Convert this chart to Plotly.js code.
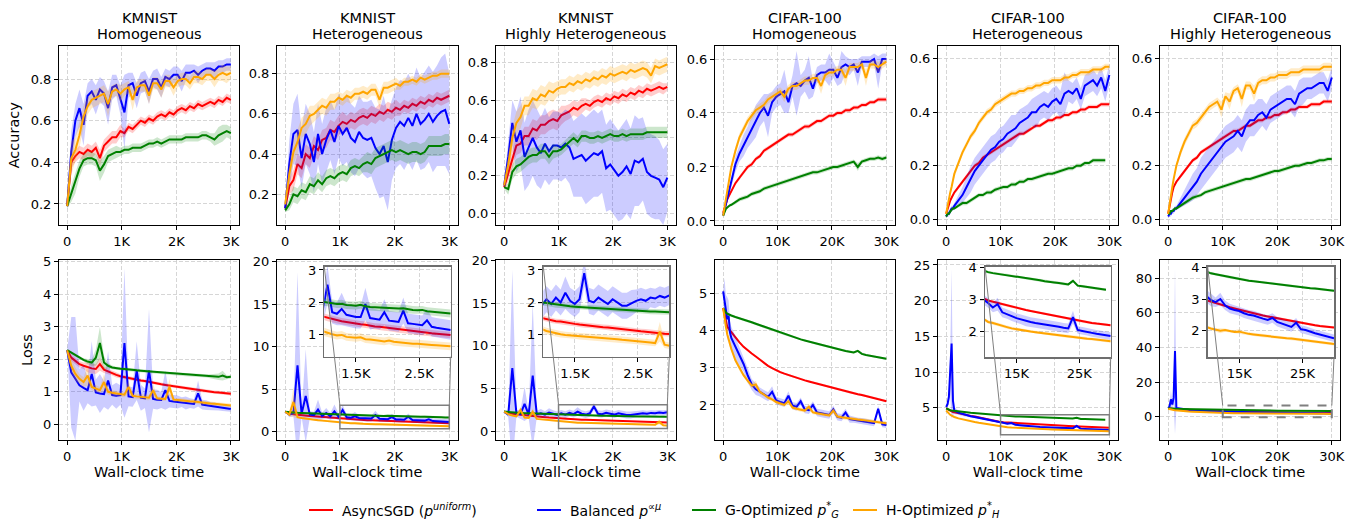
<!DOCTYPE html>
<html><head><meta charset="utf-8">
<script src="https://cdn.plot.ly/plotly-3.0.1.min.js"></script>
<style>html,body{margin:0;padding:0;background:#fff}#chart{width:1364px;height:526px}</style>
</head><body><div id="chart"></div>
<script>
const W = 1364, H = 526;

// ---------- shared x grids ----------
const xK = [0,75,150,225,300,375,450,525,600,675,750,825,900,975,1050,1125,1200,1275,1350,1425,1500,1575,1650,1725,1800,1875,1950,2025,2100,2175,2250,2325,2400,2475,2550,2625,2700,2775,2850,2925,3000];
const xC = [0,250,500,750,1000,1250,1500,2250,3000,3750,4500,5250,6000,6750,7500,8250,9000,9750,10500,11250,12000,12750,13500,14250,15000,15750,16500,17250,18000,18750,19500,20250,21000,21750,22500,23250,24000,24750,25500,26250,27000,27750,28500,29250,30000];

// ---------- text ----------
const datasetTitles = ['KMNIST','KMNIST','KMNIST','CIFAR-100','CIFAR-100','CIFAR-100'];
const settingTitles = ['Homogeneous','Heterogeneous','Highly Heterogeneous','Homogeneous','Heterogeneous','Highly Heterogeneous'];
const seriesNames = ['AsyncSGD (<i>p</i><sup><i>uniform</i></sup>)','Balanced <i>p</i><sup>∝<i>μ</i></sup>','G-Optimized <i>p</i><sup>*</sup><sub><i>G</i></sub>','H-Optimized <i>p</i><sup>*</sup><sub><i>H</i></sub>'];
const xTickValsK = [0,1000,2000,3000], xTickTextK = ['0','1K','2K','3K'];
const xTickValsC = [0,10000,20000,30000], xTickTextC = ['0','10K','20K','30K'];
const insetTickValsK = [1500,2500], insetTickTextK = ['1.5K','2.5K'];
const insetTickValsC = [15000,25000], insetTickTextC = ['15K','25K'];

// ---------- Panel 1: KMNIST Homogeneous accuracy ----------
const p1Red = [0.19,0.40,0.43,0.45,0.44,0.46,0.45,0.47,0.42,0.48, 0.50,0.52,0.52,0.55,0.54,0.57,0.56,0.58,0.60,0.59, 0.61,0.60,0.62,0.63,0.62,0.64,0.63,0.65,0.66,0.65, 0.67,0.66,0.68,0.67,0.68,0.69,0.68,0.70,0.69,0.71, 0.70];
const p1RedSd = [0.01,0.03,0.03,0.03,0.03,0.03,0.03,0.03,0.04,0.03, 0.03,0.03,0.03,0.03,0.02,0.02,0.02,0.02,0.02,0.02, 0.02,0.02,0.02,0.02,0.02,0.02,0.02,0.02,0.02,0.02, 0.02,0.02,0.02,0.02,0.02,0.02,0.02,0.02,0.02,0.02, 0.02];
const p1Blue = [0.19,0.45,0.60,0.66,0.58,0.72,0.74,0.70,0.75,0.73, 0.66,0.76,0.77,0.70,0.64,0.77,0.78,0.72,0.78,0.79, 0.74,0.80,0.80,0.76,0.81,0.80,0.82,0.82,0.79,0.83, 0.83,0.84,0.82,0.84,0.85,0.85,0.84,0.86,0.86,0.87, 0.87];
const p1BlueSd = [0.02,0.10,0.08,0.09,0.10,0.06,0.06,0.07,0.06,0.06, 0.08,0.06,0.05,0.07,0.18,0.06,0.05,0.06,0.05,0.05, 0.06,0.04,0.05,0.05,0.04,0.04,0.04,0.04,0.05,0.04, 0.04,0.03,0.04,0.03,0.03,0.03,0.04,0.03,0.03,0.03, 0.03];
const p1Green = [0.19,0.25,0.30,0.37,0.41,0.42,0.42,0.41,0.36,0.39, 0.43,0.44,0.45,0.45,0.46,0.46,0.47,0.47,0.47,0.48, 0.49,0.49,0.50,0.49,0.50,0.51,0.51,0.51,0.51,0.52, 0.52,0.52,0.52,0.53,0.53,0.52,0.51,0.53,0.54,0.55, 0.54];
const p1GreenSd = [0.01,0.04,0.05,0.04,0.03,0.03,0.03,0.03,0.05,0.04, 0.03,0.03,0.03,0.02,0.02,0.02,0.02,0.02,0.02,0.02, 0.02,0.02,0.02,0.02,0.02,0.02,0.02,0.02,0.02,0.02, 0.02,0.02,0.02,0.02,0.02,0.02,0.03,0.04,0.04,0.03, 0.03];
const p1Orange = [0.19,0.42,0.46,0.53,0.62,0.67,0.70,0.71,0.72,0.73, 0.68,0.74,0.75,0.73,0.75,0.76,0.70,0.76,0.77,0.77, 0.72,0.78,0.78,0.75,0.79,0.79,0.76,0.79,0.80,0.80, 0.78,0.81,0.81,0.80,0.82,0.82,0.80,0.82,0.83,0.82, 0.83];
const p1OrangeSd = [0.01,0.08,0.06,0.06,0.05,0.04,0.04,0.04,0.04,0.04, 0.06,0.03,0.03,0.04,0.03,0.03,0.05,0.03,0.03,0.03, 0.04,0.03,0.03,0.04,0.03,0.03,0.04,0.03,0.03,0.03, 0.03,0.03,0.03,0.03,0.03,0.03,0.04,0.03,0.04,0.04, 0.03];

// ---------- Panel 2: KMNIST Heterogeneous accuracy ----------
const p2Red = [0.13,0.24,0.27,0.35,0.33,0.40,0.38,0.44,0.42,0.47, 0.48,0.52,0.51,0.54,0.56,0.55,0.57,0.56,0.58,0.59, 0.58,0.60,0.59,0.61,0.60,0.62,0.61,0.63,0.62,0.64, 0.63,0.65,0.64,0.66,0.65,0.67,0.66,0.68,0.67,0.68, 0.69];
const p2RedSd = [0.01,0.04,0.05,0.05,0.05,0.05,0.05,0.05,0.05,0.05, 0.05,0.05,0.05,0.05,0.05,0.04,0.04,0.04,0.04,0.04, 0.04,0.04,0.04,0.04,0.04,0.04,0.04,0.04,0.03,0.03, 0.03,0.03,0.03,0.03,0.03,0.03,0.03,0.03,0.03,0.03, 0.03];
const p2Blue = [0.13,0.35,0.50,0.52,0.38,0.50,0.45,0.36,0.50,0.40, 0.47,0.52,0.46,0.54,0.50,0.53,0.48,0.46,0.51,0.48, 0.47,0.48,0.43,0.40,0.44,0.36,0.47,0.53,0.56,0.54, 0.58,0.54,0.60,0.55,0.57,0.60,0.56,0.59,0.61,0.62, 0.55];
const p2BlueSd = [0.02,0.12,0.15,0.18,0.15,0.15,0.15,0.15,0.15,0.15, 0.16,0.15,0.16,0.16,0.16,0.17,0.17,0.17,0.18,0.18, 0.19,0.19,0.20,0.22,0.25,0.24,0.20,0.20,0.21,0.22, 0.22,0.22,0.23,0.23,0.24,0.24,0.25,0.25,0.27,0.28, 0.25];
const p2Green = [0.12,0.15,0.20,0.19,0.22,0.21,0.25,0.24,0.27,0.25, 0.28,0.29,0.28,0.30,0.31,0.30,0.33,0.34,0.33,0.35, 0.36,0.35,0.38,0.39,0.40,0.41,0.42,0.41,0.42,0.41, 0.40,0.41,0.41,0.40,0.41,0.44,0.44,0.44,0.44,0.45, 0.45];
const p2GreenSd = [0.01,0.03,0.04,0.04,0.04,0.04,0.04,0.04,0.04,0.04, 0.04,0.04,0.04,0.04,0.04,0.04,0.04,0.04,0.04,0.04, 0.05,0.05,0.05,0.05,0.05,0.05,0.05,0.05,0.05,0.05, 0.05,0.05,0.05,0.05,0.05,0.05,0.05,0.05,0.05,0.05, 0.05];
const p2Orange = [0.15,0.30,0.41,0.46,0.53,0.55,0.59,0.60,0.62,0.64, 0.63,0.66,0.66,0.68,0.67,0.69,0.68,0.70,0.70,0.71, 0.70,0.72,0.72,0.67,0.73,0.73,0.74,0.75,0.74,0.76, 0.76,0.77,0.76,0.78,0.77,0.78,0.79,0.79,0.80,0.80, 0.80];
const p2OrangeSd = [0.01,0.05,0.06,0.06,0.05,0.05,0.05,0.04,0.04,0.04, 0.04,0.04,0.04,0.03,0.03,0.03,0.03,0.03,0.03,0.03, 0.03,0.03,0.03,0.04,0.03,0.03,0.03,0.03,0.02,0.02, 0.02,0.02,0.02,0.02,0.02,0.02,0.02,0.02,0.02,0.02, 0.02];

// ---------- Panel 3: KMNIST Highly Heterogeneous accuracy ----------
const p3Red = [0.14,0.21,0.29,0.36,0.37,0.41,0.41,0.45,0.44,0.47, 0.47,0.49,0.50,0.49,0.52,0.53,0.54,0.56,0.55,0.57, 0.58,0.57,0.59,0.60,0.59,0.61,0.60,0.62,0.61,0.63, 0.62,0.64,0.63,0.65,0.64,0.66,0.65,0.66,0.67,0.66, 0.67];
const p3RedSd = [0.01,0.04,0.05,0.05,0.05,0.05,0.05,0.05,0.05,0.05, 0.05,0.05,0.05,0.05,0.05,0.04,0.04,0.04,0.04,0.04, 0.03,0.03,0.03,0.03,0.03,0.03,0.03,0.03,0.03,0.03, 0.03,0.03,0.03,0.03,0.03,0.03,0.03,0.03,0.03,0.03, 0.02];
const p3Blue = [0.15,0.30,0.48,0.38,0.44,0.30,0.35,0.40,0.35,0.32, 0.37,0.33,0.36,0.36,0.35,0.37,0.35,0.29,0.30,0.31, 0.28,0.30,0.32,0.31,0.33,0.24,0.26,0.23,0.20,0.22, 0.25,0.21,0.28,0.27,0.29,0.22,0.20,0.19,0.18,0.14, 0.19];
const p3BlueSd = [0.02,0.10,0.12,0.16,0.18,0.18,0.20,0.20,0.20,0.19, 0.19,0.18,0.18,0.18,0.18,0.18,0.19,0.20,0.21,0.22, 0.23,0.23,0.23,0.22,0.22,0.23,0.24,0.24,0.24,0.25, 0.25,0.24,0.24,0.23,0.22,0.22,0.22,0.22,0.21,0.20, 0.18];
const p3Green = [0.14,0.13,0.22,0.25,0.26,0.28,0.30,0.31,0.31,0.33, 0.33,0.30,0.33,0.33,0.34,0.36,0.38,0.40,0.38,0.41, 0.41,0.40,0.40,0.41,0.40,0.41,0.42,0.41,0.41,0.42, 0.41,0.42,0.42,0.42,0.42,0.43,0.43,0.43,0.43,0.43, 0.43];
const p3GreenSd = [0.01,0.03,0.04,0.04,0.04,0.04,0.04,0.04,0.04,0.04, 0.04,0.04,0.04,0.03,0.03,0.03,0.03,0.03,0.03,0.03, 0.03,0.03,0.03,0.03,0.03,0.03,0.03,0.03,0.03,0.03, 0.03,0.03,0.03,0.03,0.03,0.03,0.03,0.03,0.03,0.03, 0.03];
const p3Orange = [0.15,0.26,0.40,0.48,0.51,0.57,0.57,0.61,0.60,0.63, 0.62,0.65,0.64,0.66,0.67,0.67,0.69,0.68,0.70,0.69, 0.71,0.70,0.72,0.71,0.73,0.72,0.74,0.73,0.74,0.75, 0.74,0.76,0.75,0.76,0.77,0.76,0.73,0.78,0.77,0.78, 0.79];
const p3OrangeSd = [0.01,0.05,0.06,0.06,0.06,0.05,0.05,0.05,0.05,0.05, 0.05,0.05,0.05,0.04,0.04,0.04,0.04,0.04,0.04,0.04, 0.04,0.04,0.04,0.04,0.04,0.04,0.04,0.04,0.04,0.04, 0.04,0.04,0.04,0.04,0.04,0.04,0.04,0.04,0.04,0.04, 0.04];

// ---------- Panel 4: CIFAR-100 Homogeneous accuracy ----------
const p4Red = [0.03,0.05,0.065,0.08,0.09,0.10,0.11, 0.14,0.16,0.18,0.20,0.21,0.23,0.24,0.26,0.27,0.28, 0.29,0.30,0.31,0.32,0.32,0.33,0.34,0.35,0.35,0.36, 0.37,0.37,0.38,0.39,0.39,0.40,0.40,0.41,0.41,0.42, 0.42,0.43,0.43,0.44,0.44,0.45,0.45,0.45];
const p4RedSd = [0.005,0.005,0.005,0.005,0.005,0.005,0.005, 0.008,0.008,0.008,0.008,0.008,0.008,0.008,0.008,0.008,0.008, 0.008,0.008,0.008,0.008,0.008,0.008,0.008,0.008,0.008,0.008, 0.008,0.008,0.008,0.008,0.008,0.008,0.008,0.008,0.008,0.008, 0.008,0.008,0.008,0.008,0.008,0.008,0.008,0.008];
const p4Blue = [0.02,0.04,0.06,0.08,0.10,0.12,0.14, 0.21,0.25,0.28,0.31,0.34,0.37,0.40,0.42,0.39,0.44, 0.46,0.47,0.48,0.44,0.50,0.51,0.50,0.52,0.53,0.49, 0.54,0.55,0.55,0.56,0.56,0.53,0.57,0.58,0.57,0.58, 0.55,0.59,0.59,0.59,0.60,0.55,0.60,0.60];
const p4BlueSd = [0.005,0.01,0.01,0.01,0.015,0.015,0.02, 0.03,0.03,0.04,0.04,0.05,0.06,0.05,0.05,0.08,0.04, 0.04,0.04,0.08,0.04,0.04,0.12,0.04,0.04,0.08,0.03, 0.03,0.03,0.03,0.06,0.03,0.03,0.06,0.03,0.03,0.02, 0.05,0.02,0.02,0.02,0.02,0.06,0.02,0.02];
const p4Green = [0.02,0.035,0.045,0.05,0.055,0.058,0.06, 0.07,0.08,0.085,0.09,0.10,0.105,0.11,0.12,0.125,0.13, 0.135,0.14,0.145,0.15,0.155,0.16,0.165,0.17,0.175,0.18, 0.18,0.185,0.19,0.195,0.20,0.20,0.205,0.21,0.215,0.22, 0.20,0.22,0.225,0.23,0.23,0.235,0.23,0.235];
const p4GreenSd = [0.005,0.005,0.005,0.005,0.005,0.005,0.005, 0.008,0.008,0.008,0.008,0.008,0.008,0.008,0.008,0.008,0.008, 0.008,0.008,0.008,0.008,0.008,0.008,0.008,0.008,0.008,0.008, 0.008,0.008,0.008,0.008,0.008,0.008,0.008,0.008,0.008,0.008, 0.015,0.008,0.008,0.008,0.008,0.008,0.008,0.008];
const p4Orange = [0.02,0.05,0.08,0.11,0.14,0.17,0.20, 0.26,0.31,0.34,0.37,0.39,0.41,0.42,0.43,0.45,0.46, 0.47,0.48,0.46,0.49,0.50,0.50,0.51,0.52,0.52,0.53, 0.53,0.50,0.54,0.55,0.55,0.56,0.56,0.53,0.57,0.57, 0.57,0.58,0.53,0.58,0.58,0.57,0.58,0.59];
const p4OrangeSd = [0.005,0.01,0.01,0.01,0.01,0.01,0.01, 0.015,0.015,0.015,0.015,0.015,0.015,0.015,0.015,0.015,0.015, 0.015,0.015,0.02,0.015,0.015,0.015,0.015,0.015,0.015,0.015, 0.015,0.03,0.015,0.015,0.015,0.015,0.015,0.03,0.015,0.015, 0.015,0.015,0.03,0.015,0.015,0.02,0.015,0.015];

// ---------- Panel 5: CIFAR-100 Heterogeneous accuracy ----------
const p5Red = [0.02,0.04,0.05,0.07,0.08,0.09,0.10, 0.12,0.14,0.16,0.18,0.20,0.21,0.23,0.24,0.25,0.26, 0.27,0.28,0.29,0.30,0.31,0.32,0.32,0.33,0.34,0.35, 0.35,0.36,0.37,0.37,0.38,0.38,0.39,0.39,0.40,0.40, 0.41,0.41,0.42,0.42,0.42,0.43,0.43,0.43];
const p5RedSd = [0.005,0.005,0.005,0.005,0.005,0.005,0.005, 0.008,0.008,0.008,0.008,0.008,0.008,0.008,0.008,0.008,0.008, 0.008,0.008,0.008,0.008,0.008,0.008,0.008,0.008,0.008,0.008, 0.008,0.008,0.008,0.008,0.008,0.008,0.008,0.008,0.008,0.008, 0.008,0.008,0.008,0.008,0.008,0.008,0.008,0.008];
const p5Blue = [0.01,0.02,0.02,0.03,0.04,0.04,0.05, 0.07,0.09,0.12,0.15,0.18,0.20,0.22,0.24,0.26,0.27, 0.29,0.30,0.32,0.33,0.34,0.36,0.37,0.38,0.40,0.40, 0.42,0.43,0.42,0.44,0.45,0.43,0.47,0.48,0.47,0.49, 0.45,0.50,0.51,0.52,0.50,0.53,0.48,0.54];
const p5BlueSd = [0.005,0.01,0.01,0.01,0.01,0.01,0.01, 0.02,0.03,0.04,0.05,0.05,0.05,0.05,0.05,0.05,0.05, 0.05,0.05,0.05,0.06,0.05,0.05,0.05,0.05,0.05,0.06, 0.05,0.05,0.05,0.05,0.05,0.05,0.08,0.04,0.04,0.04, 0.04,0.04,0.04,0.04,0.04,0.04,0.04,0.04];
const p5Green = [0.01,0.02,0.02,0.03,0.035,0.04,0.04, 0.05,0.06,0.06,0.07,0.08,0.09,0.09,0.10,0.10,0.11, 0.115,0.12,0.12,0.13,0.13,0.14,0.14,0.15,0.15,0.155, 0.16,0.165,0.17,0.17,0.175,0.18,0.185,0.19,0.19,0.20, 0.20,0.21,0.21,0.22,0.22,0.22,0.22,null];
const p5GreenSd = [0.005,0.005,0.005,0.005,0.005,0.005,0.005, 0.008,0.008,0.008,0.008,0.008,0.008,0.008,0.008,0.008,0.008, 0.008,0.008,0.008,0.008,0.008,0.008,0.008,0.008,0.008,0.008, 0.008,0.008,0.008,0.008,0.008,0.008,0.008,0.008,0.008,0.008, 0.008,0.008,0.008,0.008,0.008,0.008,0.008,0.008];
const p5Orange = [0.02,0.05,0.07,0.10,0.12,0.15,0.17, 0.21,0.25,0.28,0.31,0.33,0.36,0.38,0.40,0.41,0.43, 0.44,0.45,0.46,0.47,0.47,0.48,0.48,0.49,0.49,0.50, 0.50,0.51,0.51,0.52,0.52,0.52,0.53,0.53,0.54,0.54, 0.55,0.55,0.55,0.56,0.56,0.56,0.57,0.57];
const p5OrangeSd = [0.005,0.01,0.01,0.01,0.01,0.01,0.01, 0.012,0.012,0.012,0.012,0.012,0.012,0.012,0.012,0.012,0.012, 0.012,0.012,0.012,0.012,0.012,0.012,0.012,0.012,0.012,0.012, 0.012,0.012,0.012,0.012,0.012,0.012,0.012,0.012,0.012,0.012, 0.012,0.012,0.012,0.012,0.012,0.012,0.012,0.012];

// ---------- Panel 6: CIFAR-100 Highly Heterogeneous accuracy ----------
const p6Red = [0.02,0.05,0.08,0.10,0.12,0.13,0.14, 0.16,0.18,0.20,0.22,0.23,0.25,0.26,0.27,0.28,0.29, 0.30,0.31,0.32,0.33,0.33,0.34,0.35,0.35,0.36,0.37, 0.37,0.38,0.38,0.39,0.39,0.40,0.40,0.41,0.41,0.42, 0.42,0.42,0.43,0.43,0.43,0.44,0.44,0.44];
const p6RedSd = [0.005,0.005,0.005,0.005,0.005,0.005,0.005, 0.008,0.008,0.008,0.008,0.008,0.008,0.008,0.008,0.008,0.008, 0.008,0.008,0.008,0.008,0.008,0.008,0.008,0.008,0.008,0.008, 0.008,0.008,0.008,0.008,0.008,0.008,0.008,0.008,0.008,0.008, 0.008,0.008,0.008,0.008,0.008,0.008,0.008,0.008];
const p6Blue = [0.01,0.02,0.02,0.03,0.03,0.04,0.04, 0.06,0.08,0.10,0.12,0.14,0.17,0.19,0.21,0.23,0.25, 0.27,0.29,0.30,0.31,0.33,0.31,0.35,0.37,0.37,0.39, 0.40,0.38,0.41,0.42,0.43,0.44,0.45,0.45,0.43,0.47, 0.48,0.49,0.49,0.50,0.51,0.51,0.48,0.53];
const p6BlueSd = [0.005,0.01,0.01,0.01,0.01,0.01,0.01, 0.02,0.03,0.04,0.05,0.05,0.06,0.06,0.06,0.06,0.06, 0.06,0.06,0.06,0.06,0.06,0.06,0.06,0.06,0.06,0.06, 0.05,0.05,0.05,0.05,0.05,0.05,0.05,0.05,0.05,0.05, 0.05,0.04,0.04,0.04,0.04,0.04,0.04,0.04];
const p6Green = [0.02,0.02,0.03,0.03,0.035,0.04,0.04, 0.05,0.06,0.07,0.08,0.085,0.09,0.10,0.105,0.11,0.115, 0.12,0.125,0.13,0.135,0.14,0.145,0.15,0.15,0.155,0.16, 0.165,0.17,0.175,0.18,0.18,0.185,0.19,0.195,0.20,0.20, 0.205,0.21,0.21,0.215,0.22,0.22,0.225,0.225];
const p6GreenSd = [0.005,0.005,0.005,0.005,0.005,0.005,0.005, 0.008,0.008,0.008,0.008,0.008,0.008,0.008,0.008,0.008,0.008, 0.008,0.008,0.008,0.008,0.008,0.008,0.008,0.008,0.008,0.008, 0.008,0.008,0.008,0.008,0.008,0.008,0.008,0.008,0.008,0.008, 0.008,0.008,0.008,0.008,0.008,0.008,0.008,0.008];
const p6Orange = [0.02,0.06,0.09,0.12,0.15,0.18,0.20, 0.25,0.29,0.32,0.35,0.36,0.38,0.40,0.42,0.43,0.44, 0.41,0.46,0.44,0.48,0.49,0.45,0.50,0.50,0.47,0.51, 0.52,0.52,0.53,0.53,0.54,0.54,0.54,0.55,0.55,0.55, 0.56,0.56,0.56,0.56,0.56,0.57,0.57,0.57];
const p6OrangeSd = [0.005,0.01,0.01,0.01,0.01,0.01,0.01, 0.015,0.015,0.015,0.015,0.015,0.015,0.015,0.015,0.015,0.015, 0.03,0.015,0.03,0.015,0.015,0.03,0.015,0.015,0.03,0.015, 0.015,0.015,0.015,0.015,0.015,0.015,0.015,0.015,0.015,0.015, 0.015,0.015,0.015,0.015,0.015,0.015,0.015,0.015];

// ---------- Panel 7: KMNIST Homogeneous loss ----------
const p7Red = [2.28,2.05,1.95,1.85,1.80,1.75,1.72,1.70,1.85,1.68, 1.62,1.58,1.52,1.48,1.45,1.42,1.40,1.38,1.35,1.33, 1.30,1.28,1.25,1.23,1.21,1.19,1.17,1.15,1.13,1.11, 1.09,1.07,1.05,1.04,1.02,1.01,0.99,0.98,0.96,0.95, 0.94];
const p7RedSd = [0.02,0.10,0.10,0.10,0.10,0.15,0.15,0.15,0.20,0.10, 0.08,0.08,0.08,0.06,0.06,0.06,0.06,0.06,0.05,0.05, 0.05,0.05,0.05,0.05,0.05,0.05,0.05,0.05,0.05,0.05, 0.05,0.05,0.05,0.05,0.05,0.05,0.05,0.05,0.05,0.05, 0.05];
const p7Blue = [2.28,1.60,1.40,1.20,1.12,1.05,1.55,0.98,0.95,0.93, 1.35,0.90,0.88,0.90,2.50,0.86,0.84,1.65,0.82,0.80, 1.65,0.78,0.76,0.75,1.05,0.72,0.70,0.69,0.68,0.66, 0.65,0.63,0.95,0.61,0.59,0.57,0.55,0.53,0.51,0.49, 0.47];
const p7BlueSd = [0.02,1.70,1.90,0.50,0.70,0.40,1.00,0.40,0.60,0.40, 0.90,0.30,0.40,0.30,2.30,0.30,0.30,0.90,0.40,0.30, 1.90,0.30,0.30,0.25,0.60,0.20,0.20,0.20,0.15,0.20, 0.15,0.15,0.40,0.15,0.15,0.12,0.12,0.10,0.10,0.10, 0.08];
const p7Green = [2.28,2.20,2.12,2.05,1.98,1.93,1.90,2.05,2.50,1.90, 1.80,1.75,1.72,1.71,1.70,1.68,1.67,1.66,1.65,1.64, 1.62,1.60,1.60,1.58,1.57,1.56,1.55,1.54,1.54,1.53, 1.52,1.51,1.50,1.50,1.49,1.48,1.47,1.46,1.50,1.45, 1.46];
const p7GreenSd = [0.02,0.05,0.05,0.05,0.05,0.08,0.10,0.25,0.50,0.20, 0.08,0.06,0.05,0.05,0.05,0.05,0.05,0.05,0.05,0.05, 0.05,0.05,0.05,0.05,0.05,0.05,0.05,0.05,0.05,0.05, 0.05,0.05,0.05,0.05,0.05,0.06,0.08,0.10,0.15,0.06, 0.05];
const p7Orange = [2.28,1.80,1.55,1.40,1.30,1.50,1.15,1.10,1.05,1.30, 1.00,0.97,0.95,0.93,0.91,1.15,0.88,0.86,0.85,0.83, 0.82,1.05,0.80,0.79,0.78,1.15,0.76,0.75,0.73,0.72, 0.71,0.70,0.68,0.67,0.66,0.64,0.63,0.62,0.60,0.59, 0.58];
const p7OrangeSd = [0.02,0.20,0.20,0.15,0.15,0.30,0.10,0.10,0.10,0.25, 0.10,0.08,0.08,0.08,0.08,0.20,0.08,0.08,0.08,0.08, 0.08,0.20,0.06,0.06,0.06,0.25,0.06,0.06,0.06,0.06, 0.06,0.06,0.06,0.06,0.06,0.06,0.06,0.06,0.06,0.06, 0.06];

// ---------- Panel 8: KMNIST Heterogeneous loss ----------
const p8Red = [2.35,2.15,2.05,1.98,1.92,1.88,1.84,1.80,1.76,1.72, 1.68,1.64,1.60,1.57,1.52,1.48,1.45,1.42,1.40,1.37, 1.35,1.33,1.31,1.28,1.26,1.25,1.23,1.21,1.20,1.17, 1.15,1.13,1.11,1.10,1.08,1.06,1.05,1.04,1.02,1.01, 1.00];
const p8RedSd = [0.02,0.10,0.10,0.10,0.10,0.10,0.10,0.10,0.10,0.10, 0.10,0.10,0.10,0.10,0.10,0.10,0.10,0.10,0.10,0.10, 0.10,0.10,0.10,0.10,0.10,0.10,0.10,0.10,0.10,0.10, 0.10,0.10,0.10,0.10,0.10,0.10,0.10,0.10,0.10,0.10, 0.10];
const p8Blue = [2.35,2.00,2.20,7.80,2.10,4.20,2.00,1.95,2.60,1.85, 2.20,1.80,2.40,1.75,2.55,1.70,1.65,1.80,1.62,1.58, 1.55,1.55,1.95,1.52,1.50,1.47,1.70,1.44,1.42,1.40, 1.75,1.36,1.34,1.32,1.30,1.45,1.25,1.22,1.20,1.17, 1.15];
const p8BlueSd = [0.02,0.30,0.40,11.0,0.40,5.50,0.40,0.40,1.20,0.40, 0.60,0.40,0.80,0.40,0.60,0.35,0.35,0.50,0.35,0.35, 0.35,0.35,0.50,0.35,0.30,0.30,0.40,0.30,0.30,0.30, 0.40,0.30,0.30,0.30,0.30,0.35,0.30,0.30,0.30,0.30, 0.30];
const p8Green = [2.35,2.28,2.25,2.22,2.20,2.18,2.16,2.14,2.12,2.10, 2.08,2.06,2.08,2.02,2.00,1.98,1.95,1.96,1.92,1.91, 1.90,1.93,1.88,1.86,1.85,1.86,1.84,1.83,1.82,1.81, 1.82,1.79,1.77,1.76,1.77,1.73,1.72,1.70,1.69,1.67, 1.66];
const p8GreenSd = [0.02,0.12,0.12,0.12,0.12,0.12,0.12,0.12,0.12,0.12, 0.12,0.12,0.12,0.12,0.12,0.12,0.12,0.12,0.12,0.12, 0.12,0.12,0.12,0.12,0.12,0.12,0.12,0.12,0.12,0.12, 0.12,0.12,0.12,0.12,0.12,0.12,0.12,0.12,0.12,0.12, 0.12];
const p8Orange = [2.35,2.00,3.50,1.70,1.60,1.52,1.45,1.40,1.35,1.30, 1.25,1.20,1.16,1.10,1.05,1.02,0.98,1.00,0.94,0.92, 0.91,0.93,0.87,0.86,0.85,0.82,0.80,0.83,0.79,0.77, 0.76,0.75,0.73,0.73,0.71,0.70,0.69,0.68,0.67,0.66, 0.65];
const p8OrangeSd = [0.02,0.15,1.80,0.15,0.12,0.12,0.12,0.12,0.12,0.12, 0.12,0.12,0.12,0.12,0.12,0.12,0.12,0.12,0.12,0.12, 0.12,0.12,0.12,0.12,0.12,0.12,0.12,0.12,0.12,0.12, 0.12,0.12,0.12,0.12,0.12,0.12,0.12,0.12,0.12,0.12, 0.12];

// ---------- Panel 9: KMNIST Highly Heterogeneous loss ----------
const p9Red = [2.30,2.15,2.05,1.98,1.92,1.87,1.82,1.77,1.72,1.68, 1.64,1.60,1.56,1.52,1.49,1.45,1.42,1.41,1.38,1.36, 1.34,1.32,1.30,1.29,1.27,1.26,1.24,1.23,1.21,1.19, 1.17,1.16,1.14,1.13,1.11,1.10,1.08,1.06,1.05,1.04, 1.03];
const p9RedSd = [0.02,0.08,0.08,0.08,0.08,0.08,0.08,0.08,0.08,0.08, 0.08,0.08,0.08,0.08,0.08,0.08,0.08,0.08,0.08,0.08, 0.08,0.08,0.08,0.08,0.08,0.08,0.08,0.08,0.08,0.08, 0.08,0.08,0.08,0.08,0.08,0.08,0.08,0.08,0.08,0.08, 0.08];
const p9Blue = [2.30,1.95,7.40,2.10,2.00,3.20,1.95,6.50,2.00,2.10, 1.95,2.20,2.05,1.90,2.10,1.95,2.15,2.00,2.30,2.05, 1.95,2.10,2.90,2.05,2.00,2.15,2.05,1.95,2.10,2.00, 1.90,1.90,1.98,2.05,2.10,2.05,2.15,2.12,2.20,2.15, 2.22];
const p9BlueSd = [0.02,0.30,11.5,0.40,0.50,2.00,0.40,8.50,0.40,0.50, 0.40,0.50,0.40,0.40,0.40,0.40,0.40,0.40,0.50,0.40, 0.40,0.40,0.40,0.40,0.40,0.40,0.40,0.40,0.40,0.40, 0.40,0.40,0.40,0.35,0.35,0.35,0.30,0.30,0.30,0.30, 0.30];
const p9Green = [2.30,2.25,2.20,2.18,2.15,2.12,2.10,2.08,2.07,2.05, 2.04,2.03,2.02,2.00,1.98,1.95,1.92,1.90,1.89,1.88, 1.87,1.86,1.85,1.84,1.83,1.82,1.80,1.79,1.79,1.78, 1.77,1.76,1.75,1.74,1.74,1.73,1.72,1.72,1.71,1.70, 1.70];
const p9GreenSd = [0.02,0.08,0.08,0.08,0.08,0.08,0.08,0.08,0.08,0.08, 0.08,0.08,0.08,0.08,0.08,0.08,0.08,0.08,0.08,0.08, 0.08,0.08,0.08,0.08,0.08,0.08,0.08,0.08,0.08,0.08, 0.08,0.08,0.08,0.08,0.08,0.08,0.08,0.08,0.08,0.08, 0.08];
const p9Orange = [2.30,2.00,1.85,1.75,2.50,1.60,1.55,2.30,1.45,1.40, 1.35,1.30,1.25,1.18,1.12,1.08,1.05,1.02,1.00,0.99, 0.98,0.96,0.95,0.94,0.92,0.91,0.90,0.89,0.88,0.87, 0.85,0.84,0.83,0.82,0.80,0.79,0.77,0.75,1.10,0.70, 0.67];
const p9OrangeSd = [0.02,0.10,0.10,0.10,0.40,0.10,0.10,0.40,0.10,0.10, 0.10,0.10,0.10,0.10,0.10,0.10,0.10,0.10,0.10,0.10, 0.10,0.10,0.10,0.10,0.10,0.10,0.10,0.10,0.10,0.10, 0.10,0.10,0.10,0.10,0.10,0.10,0.10,0.10,0.30,0.10, 0.10];

// ---------- Panel 10: CIFAR-100 Homogeneous loss ----------
const p10Red = [4.60,4.40,4.25,4.10,4.05,4.00,3.95, 3.80,3.68,3.56,3.46,3.38,3.30,3.22,3.12,3.05,2.99, 2.93,2.88,2.84,2.80,2.76,2.72,2.69,2.66,2.63,2.60, 2.57,2.54,2.51,2.48,2.45,2.42,2.40,2.37,2.34,2.32, 2.29,2.27,2.24,2.22,2.19,2.17,2.14,2.10];
const p10RedSd = [0.02,0.03,0.03,0.03,0.03,0.03,0.03, 0.03,0.03,0.03,0.03,0.03,0.03,0.03,0.03,0.03,0.03, 0.03,0.03,0.03,0.03,0.03,0.03,0.03,0.03,0.03,0.03, 0.03,0.03,0.03,0.03,0.03,0.03,0.03,0.03,0.03,0.03, 0.03,0.03,0.03,0.03,0.03,0.03,0.03,0.03];
const p10Blue = [5.05,4.80,4.55,4.30,4.40,3.95,3.80, 3.55,3.30,3.10,2.80,2.55,2.42,2.35,2.28,2.22,2.35, 2.12,2.08,2.05,2.25,1.98,1.95,2.10,1.88,1.86,2.00, 1.80,1.78,1.75,1.73,1.88,1.68,1.66,1.80,1.62,1.60, 1.58,1.57,1.55,1.53,1.51,1.90,1.48,1.46];
const p10BlueSd = [0.02,0.60,0.40,0.60,0.40,0.30,0.30, 0.30,0.25,0.20,0.20,0.15,0.15,0.12,0.12,0.12,0.15, 0.10,0.10,0.10,0.12,0.10,0.10,0.10,0.10,0.10,0.10, 0.10,0.10,0.10,0.10,0.10,0.10,0.10,0.10,0.10,0.08, 0.08,0.08,0.08,0.08,0.08,0.08,0.08,0.08];
const p10Green = [4.60,4.52,4.48,4.45,4.43,4.41,4.40, 4.36,4.33,4.29,4.26,4.22,4.18,4.14,4.10,4.06,4.02, 3.98,3.94,3.90,3.86,3.83,3.80,3.76,3.73,3.70,3.67, 3.64,3.61,3.58,3.56,3.53,3.50,3.48,3.45,3.43,3.41, 3.45,3.37,3.34,3.32,3.30,3.28,3.26,3.24];
const p10GreenSd = [0.02,0.03,0.03,0.03,0.03,0.03,0.03, 0.03,0.03,0.03,0.03,0.03,0.03,0.03,0.03,0.03,0.03, 0.03,0.03,0.03,0.03,0.03,0.03,0.03,0.03,0.03,0.03, 0.03,0.03,0.03,0.03,0.03,0.03,0.03,0.03,0.03,0.03, 0.03,0.03,0.03,0.03,0.03,0.03,0.03,0.03];
const p10Orange = [4.60,4.30,4.10,3.90,3.75,3.62,3.50, 3.20,2.98,2.80,2.65,2.52,2.55,2.35,2.28,2.20,2.15, 2.08,2.04,2.00,2.10,1.93,1.90,1.87,1.85,1.95,1.80, 1.78,1.76,1.74,1.72,1.85,1.69,1.67,1.65,1.64,1.62, 1.61,1.60,1.58,1.57,1.55,1.54,1.52,1.51];
const p10OrangeSd = [0.02,0.08,0.08,0.08,0.08,0.08,0.08, 0.06,0.06,0.06,0.06,0.06,0.10,0.05,0.05,0.05,0.05, 0.05,0.05,0.05,0.08,0.05,0.05,0.05,0.05,0.08,0.05, 0.05,0.05,0.05,0.05,0.08,0.05,0.05,0.05,0.05,0.05, 0.05,0.05,0.05,0.05,0.05,0.05,0.05,0.05];

// ---------- Panel 11: CIFAR-100 Heterogeneous loss ----------
const p11Red = [4.90,4.78,4.65,4.55,4.48,4.40,4.35, 4.20,4.08,3.96,3.85,3.75,3.62,3.50,3.38,3.26,3.15, 3.03,2.97,2.93,2.89,2.85,2.81,2.77,2.73,2.70,2.67, 2.64,2.61,2.58,2.55,2.52,2.49,2.46,2.43,2.41,2.38, 2.34,2.31,2.29,2.27,2.25,2.23,2.21,2.20];
const p11RedSd = [0.02,0.04,0.04,0.04,0.04,0.04,0.04, 0.04,0.04,0.04,0.04,0.04,0.04,0.04,0.04,0.04,0.04, 0.04,0.04,0.04,0.04,0.04,0.04,0.04,0.04,0.04,0.04, 0.04,0.04,0.04,0.04,0.04,0.04,0.04,0.04,0.04,0.04, 0.04,0.04,0.04,0.04,0.04,0.04,0.04,0.04];
const p11Blue = [5.10,5.50,6.50,9.80,14.0,6.00,4.60, 4.30,4.10,3.90,3.80,3.70,3.60,3.45,3.35,3.20,3.10, 3.00,2.89,2.75,2.85,2.60,2.55,2.48,2.42,2.38,2.32, 2.30,2.27,2.25,2.22,2.20,2.18,2.15,2.12,2.10,2.45, 2.05,2.02,2.00,1.96,1.93,1.90,1.88,1.86];
const p11BlueSd = [0.05,0.50,1.00,3.00,10.5,2.00,0.50, 0.30,0.25,0.25,0.20,0.20,0.20,0.20,0.20,0.20,0.20, 0.15,0.15,0.15,0.20,0.15,0.15,0.15,0.15,0.15,0.15, 0.15,0.15,0.15,0.15,0.15,0.15,0.15,0.15,0.15,0.20, 0.12,0.12,0.12,0.12,0.12,0.12,0.12,0.12];
const p11Green = [4.90,4.78,4.70,4.65,4.60,4.57,4.55, 4.48,4.42,4.36,4.30,4.25,4.19,4.13,4.07,4.01,3.95, 3.90,3.85,3.82,3.80,3.78,3.76,3.73,3.71,3.69,3.66, 3.64,3.62,3.60,3.57,3.56,3.53,3.51,3.48,3.47,3.58, 3.43,3.41,3.39,3.36,3.34,3.32,3.30,null];
const p11GreenSd = [0.02,0.04,0.04,0.04,0.04,0.04,0.04, 0.04,0.04,0.04,0.04,0.04,0.04,0.04,0.04,0.04,0.04, 0.04,0.04,0.04,0.04,0.04,0.04,0.04,0.04,0.04,0.04, 0.04,0.04,0.04,0.04,0.04,0.04,0.04,0.04,0.04,0.04, 0.04,0.04,0.04,0.04,0.04,0.04,0.04,0.04];
const p11Orange = [4.60,4.35,4.15,4.00,3.88,3.78,3.70, 3.50,3.35,3.20,3.08,2.98,2.88,2.78,2.68,2.58,2.48, 2.38,2.30,2.27,2.22,2.18,2.14,2.10,2.07,2.04,2.02, 2.00,1.98,1.96,1.94,1.92,1.91,1.89,1.87,1.85,1.84, 1.82,1.80,1.78,1.77,1.75,1.74,1.72,1.70];
const p11OrangeSd = [0.02,0.05,0.05,0.05,0.05,0.05,0.05, 0.05,0.05,0.05,0.05,0.05,0.05,0.05,0.05,0.05,0.05, 0.05,0.05,0.05,0.05,0.05,0.05,0.05,0.05,0.05,0.05, 0.05,0.05,0.05,0.05,0.05,0.05,0.05,0.05,0.05,0.05, 0.05,0.05,0.05,0.05,0.05,0.05,0.05,0.05];

// ---------- Panel 12: CIFAR-100 Highly Heterogeneous loss ----------
const p12Red = [4.90,4.75,4.62,4.52,4.45,4.38,4.32, 4.18,4.05,3.92,3.80,3.68,3.55,3.42,3.30,3.18,3.06, 2.96,2.92,2.87,2.82,2.78,2.74,2.70,2.66,2.62,2.58, 2.55,2.52,2.48,2.45,2.42,2.39,2.36,2.33,2.30,2.27, 2.25,2.22,2.20,2.17,2.15,2.13,2.11,2.10];
const p12RedSd = [0.02,0.04,0.04,0.04,0.04,0.04,0.04, 0.04,0.04,0.04,0.04,0.04,0.04,0.04,0.04,0.04,0.04, 0.04,0.04,0.04,0.04,0.04,0.04,0.04,0.04,0.04,0.04, 0.04,0.04,0.04,0.04,0.04,0.04,0.04,0.04,0.04,0.04, 0.04,0.04,0.04,0.04,0.04,0.04,0.04,0.04];
const p12Blue = [5.00,6.00,10.0,7.00,11.0,38.0,5.00, 4.60,4.30,4.05,3.85,3.65,3.50,3.35,3.25,3.15,3.05, 3.10,2.97,2.90,3.00,2.80,2.70,2.65,2.62,2.55,2.50, 2.48,2.42,2.38,2.34,2.40,2.28,2.22,2.18,2.12,2.25, 2.05,2.02,1.96,1.92,1.88,1.84,1.80,1.76];
const p12BlueSd = [0.05,0.50,5.00,2.00,4.00,48.0,0.50, 0.30,0.25,0.25,0.20,0.20,0.20,0.20,0.20,0.20,0.20, 0.20,0.20,0.15,0.20,0.15,0.15,0.15,0.15,0.15,0.15, 0.15,0.15,0.15,0.15,0.15,0.15,0.15,0.15,0.15,0.15, 0.12,0.12,0.12,0.12,0.12,0.12,0.12,0.12];
const p12Green = [4.90,4.80,4.72,4.66,4.62,4.58,4.55, 4.48,4.42,4.36,4.30,4.24,4.18,4.12,4.06,4.00,3.94, 3.88,3.81,3.78,3.75,3.72,3.68,3.65,3.62,3.60,3.58, 3.56,3.54,3.52,3.50,3.48,3.46,3.44,3.43,3.41,3.40, 3.38,3.36,3.34,3.33,3.31,3.29,3.28,3.26];
const p12GreenSd = [0.02,0.04,0.04,0.04,0.04,0.04,0.04, 0.04,0.04,0.04,0.04,0.04,0.04,0.04,0.04,0.04,0.04, 0.04,0.04,0.04,0.04,0.04,0.04,0.04,0.04,0.04,0.04, 0.04,0.04,0.04,0.04,0.04,0.04,0.04,0.04,0.04,0.04, 0.04,0.04,0.04,0.04,0.04,0.04,0.04,0.04];
const p12Orange = [4.60,4.30,4.10,3.95,3.82,3.72,3.62, 3.40,3.20,3.02,2.88,2.75,2.62,2.50,2.40,2.30,2.20, 2.12,2.07,2.03,2.00,2.02,1.98,1.96,1.97,1.93,1.90, 1.88,1.86,1.84,1.82,1.81,1.80,1.78,1.76,1.75,1.73, 1.71,1.70,1.68,1.66,1.64,1.62,1.60,1.58];
const p12OrangeSd = [0.02,0.05,0.05,0.05,0.05,0.05,0.05, 0.05,0.05,0.05,0.05,0.05,0.05,0.05,0.05,0.05,0.05, 0.05,0.05,0.05,0.08,0.05,0.05,0.05,0.08,0.05,0.05, 0.05,0.05,0.05,0.05,0.05,0.05,0.05,0.05,0.05,0.05, 0.05,0.05,0.05,0.05,0.05,0.05,0.05,0.05];

// ---------- assembly ----------
const colors = ['#ff0000','#0000ff','#008000','#ffa500'];
const fills = ['rgba(255,0,0,0.2)','rgba(0,0,255,0.2)','rgba(0,128,0,0.2)','rgba(255,165,0,0.22)'];

const panelData = [
  {x:xK, s:[[p1Red,p1RedSd],[p1Blue,p1BlueSd],[p1Green,p1GreenSd],[p1Orange,p1OrangeSd]]},
  {x:xK, s:[[p2Red,p2RedSd],[p2Blue,p2BlueSd],[p2Green,p2GreenSd],[p2Orange,p2OrangeSd]]},
  {x:xK, s:[[p3Red,p3RedSd],[p3Blue,p3BlueSd],[p3Green,p3GreenSd],[p3Orange,p3OrangeSd]]},
  {x:xC, s:[[p4Red,p4RedSd],[p4Blue,p4BlueSd],[p4Green,p4GreenSd],[p4Orange,p4OrangeSd]]},
  {x:xC, s:[[p5Red,p5RedSd],[p5Blue,p5BlueSd],[p5Green,p5GreenSd],[p5Orange,p5OrangeSd]]},
  {x:xC, s:[[p6Red,p6RedSd],[p6Blue,p6BlueSd],[p6Green,p6GreenSd],[p6Orange,p6OrangeSd]]},
  {x:xK, s:[[p7Red,p7RedSd],[p7Blue,p7BlueSd],[p7Green,p7GreenSd],[p7Orange,p7OrangeSd]]},
  {x:xK, s:[[p8Red,p8RedSd],[p8Blue,p8BlueSd],[p8Green,p8GreenSd],[p8Orange,p8OrangeSd]]},
  {x:xK, s:[[p9Red,p9RedSd],[p9Blue,p9BlueSd],[p9Green,p9GreenSd],[p9Orange,p9OrangeSd]]},
  {x:xC, s:[[p10Red,p10RedSd],[p10Blue,p10BlueSd],[p10Green,p10GreenSd],[p10Orange,p10OrangeSd]]},
  {x:xC, s:[[p11Red,p11RedSd],[p11Blue,p11BlueSd],[p11Green,p11GreenSd],[p11Orange,p11OrangeSd]]},
  {x:xC, s:[[p12Red,p12RedSd],[p12Blue,p12BlueSd],[p12Green,p12GreenSd],[p12Orange,p12OrangeSd]]}
];

// length check
const problems = [];
panelData.forEach((p,i)=>p.s.forEach((pair,j)=>{
  if(pair[0].length!==p.x.length) problems.push('panel '+(i+1)+' series '+j+' mean len '+pair[0].length+' vs '+p.x.length);
  if(pair[1].length!==p.x.length) problems.push('panel '+(i+1)+' series '+j+' sd len '+pair[1].length+' vs '+p.x.length);
}));

// layout geometry (pixels)
const colX = [[59,239],[277,457.5],[496,675.5],[715,894.5],[938,1117.5],[1160,1340]];
const rowY = [[45.5,225],[260,440]];
const yRanges = [[0.099,0.961],[0.047,0.940],[-0.060,0.889],[-0.015,0.650],[-0.022,0.650],[-0.022,0.650],
                 [-0.48,5.05],[-0.98,20.2],[-1.02,20.03],[1.06,5.89],[0.47,25.7],[-13.5,90.6]];
const yTicks = [[0.2,0.4,0.6,0.8],[0.2,0.4,0.6,0.8],[0,0.2,0.4,0.6,0.8],[0,0.2,0.4,0.6],[0,0.2,0.4,0.6],[0,0.2,0.4,0.6],
                [0,1,2,3,4,5],[0,5,10,15,20],[0,5,10,15,20],[2,3,4,5],[5,10,15,20,25],[0,20,40,60,80]];
const insets = [
  {parent:8,  px:[324.3,450.7], py:[266.7,356.7], xr:[1000,3000],  yr:[0.33,3.1],  tv:insetTickValsK, tt:insetTickTextK, yt:[1,2,3], rect:{y0:0.33,y1:3.1,dash:'solid',w:1.5}},
  {parent:9,  px:[543.3,669.3], py:[266.7,356.7], xr:[1000,3000],  yr:[0.33,3.1],  tv:insetTickValsK, tt:insetTickTextK, yt:[1,2,3], rect:{y0:0.33,y1:3.1,dash:'solid',w:1.5}},
  {parent:11, px:[985,1110.7],  py:[266.7,357.3], xr:[10000,30000],yr:[1.2,4.02],  tv:insetTickValsC, tt:insetTickTextC, yt:[2,3,4], rect:{y0:1.2,y1:4.02,dash:'solid',w:1.5}},
  {parent:12, px:[1207.7,1334], py:[266.7,357.3], xr:[10000,30000],yr:[1.16,4.02], tv:insetTickValsC, tt:insetTickTextC, yt:[2,3,4], rect:{y0:-0.3,y1:6.4,dash:'dash',w:2}}
];
// legend geometry: line sample [x0,x1] and text start (px), vertical centre
const legendLineX = [[309,333],[537,561],[692,716],[853,877]];
const legendTextX = [340,568,723,884];
const legendY = 510;

const FONT = 'DejaVu Sans, Liberation Sans, sans-serif';
const axBase = {showline:true, mirror:true, linecolor:'#000', linewidth:1, ticks:'outside', ticklen:4, tickwidth:1, tickcolor:'#000',
  showgrid:true, gridcolor:'#cccccc', gridwidth:0.8, griddash:'4px,2px', zeroline:false, automargin:false,
  tickfont:{family:FONT, size:13, color:'#000'}, tickmode:'array', fixedrange:true};

const px2x = v => v/W, px2y = v => 1 - v/H;
const idx = i => (i===1?'':String(i));

const traces = [];
function addSeries(p, ai){
  p.s.forEach((pair,j)=>{
    const m = pair[0], sd = pair[1];
    const xs=[], up=[], lo=[], ym=[];
    for(let k=0;k<p.x.length;k++){ if(m[k]!==null && m[k]!==undefined){ xs.push(p.x[k]); up.push(m[k]+sd[k]); lo.push(m[k]-sd[k]); ym.push(m[k]); } }
    traces.push({type:'scatter', mode:'lines', x:xs.concat(xs.slice().reverse()), y:up.concat(lo.slice().reverse()),
      fill:'toself', fillcolor:fills[j], line:{width:0}, hoverinfo:'skip', showlegend:false, xaxis:'x'+idx(ai), yaxis:'y'+idx(ai)});
    traces.push({type:'scatter', mode:'lines', x:xs, y:ym, name:seriesNames[j], line:{color:colors[j], width:2},
      showlegend:false, xaxis:'x'+idx(ai), yaxis:'y'+idx(ai)});
  });
}

const layout = {width:W, height:H, margin:{l:0,r:0,t:0,b:0}, paper_bgcolor:'#fff', plot_bgcolor:'#fff',
  font:{family:FONT, color:'#000'}, showlegend:false, annotations:[], shapes:[]};

for(let i=1;i<=12;i++){
  const c=(i-1)%6, r=i<=6?0:1;
  const kmnist = c<3;
  const xa = Object.assign({}, axBase, {domain:[px2x(colX[c][0]), px2x(colX[c][1])], range: kmnist?[-150,3150]:[-1500,31500],
    anchor:'y'+idx(i), tickvals: kmnist?xTickValsK:xTickValsC, ticktext: kmnist?xTickTextK:xTickTextC});
  if(r===1) xa.title = {text:'Wall-clock time', font:{family:FONT,size:14.5,color:'#000'}, standoff:4};
  const ya = Object.assign({}, axBase, {domain:[px2y(rowY[r][1]), px2y(rowY[r][0])], range:yRanges[i-1], anchor:'x'+idx(i),
    tickvals:yTicks[i-1], tickformat: r===0?'.1f':''});
  if(i===1) ya.title = {text:'Accuracy', font:{family:FONT,size:14.5,color:'#000'}, standoff:7};
  if(i===7) ya.title = {text:'Loss', font:{family:FONT,size:14.5,color:'#000'}, standoff:7};
  layout['xaxis'+idx(i)] = xa; layout['yaxis'+idx(i)] = ya;
  addSeries(panelData[i-1], i);
}

// insets
insets.forEach((ins,k)=>{
  const ai = 13+k;
  layout['xaxis'+ai] = Object.assign({}, axBase, {domain:[px2x(ins.px[0]),px2x(ins.px[1])], range:ins.xr, anchor:'y'+ai,
    tickvals:ins.tv, ticktext:ins.tt, linecolor:'#6e6e6e', linewidth:1.5});
  layout['yaxis'+ai] = Object.assign({}, axBase, {domain:[px2y(ins.py[1]),px2y(ins.py[0])], range:ins.yr, anchor:'x'+ai,
    tickvals:ins.yt, linecolor:'#6e6e6e', linewidth:1.5});
  layout.shapes.push({type:'rect', xref:'x'+ai, yref:'y'+ai, x0:ins.xr[0], x1:ins.xr[1], y0:ins.yr[0], y1:ins.yr[1],
    fillcolor:'#ffffff', line:{width:0}, layer:'below'});
  addSeries(panelData[ins.parent-1], ai);
  const pi = ins.parent;
  layout.shapes.push({type:'rect', xref:'x'+pi, yref:'y'+pi, x0:ins.xr[0], x1:ins.xr[1], y0:ins.rect.y0, y1:ins.rect.y1,
    line:{color:'#7f7f7f', width:ins.rect.w, dash:ins.rect.dash}, fillcolor:'rgba(0,0,0,0)', layer:'above'});
  const c=(pi-1)%6, r=pi<=6?0:1;
  const xr = c<3?[-150,3150]:[-1500,31500], yr = yRanges[pi-1];
  const toPx = (xv,yv)=>[colX[c][0]+(xv-xr[0])/(xr[1]-xr[0])*(colX[c][1]-colX[c][0]), rowY[r][1]-(yv-yr[0])/(yr[1]-yr[0])*(rowY[r][1]-rowY[r][0])];
  const tl = toPx(ins.xr[0], ins.rect.y1), tr = toPx(ins.xr[1], ins.rect.y1);
  layout.shapes.push({type:'line', xref:'paper', yref:'paper', x0:px2x(ins.px[0]), y0:px2y(ins.py[0]), x1:px2x(tl[0]), y1:px2y(tl[1]),
    line:{color:'#7f7f7f', width:1}, layer:'above'});
  layout.shapes.push({type:'line', xref:'paper', yref:'paper', x0:px2x(ins.px[1]), y0:px2y(ins.py[1]), x1:px2x(tr[0]), y1:px2y(tr[1]),
    line:{color:'#7f7f7f', width:1}, layer:'above'});
});

// subplot titles
for(let c=0;c<6;c++){
  const cx = px2x((colX[c][0]+colX[c][1])/2);
  layout.annotations.push({xref:'paper', yref:'paper', x:cx, y:px2y(17.5), text:datasetTitles[c], showarrow:false,
    xanchor:'center', yanchor:'middle', font:{family:FONT, size:14.5, color:'#000'}});
  layout.annotations.push({xref:'paper', yref:'paper', x:cx, y:px2y(34), text:settingTitles[c], showarrow:false,
    xanchor:'center', yanchor:'middle', font:{family:FONT, size:14.5, color:'#000'}});
}

// legend (figure-level, below the panels)
for(let j=0;j<4;j++){
  layout.shapes.push({type:'line', xref:'paper', yref:'paper', x0:px2x(legendLineX[j][0]), x1:px2x(legendLineX[j][1]),
    y0:px2y(legendY), y1:px2y(legendY), line:{color:colors[j], width:2}, layer:'above'});
  layout.annotations.push({xref:'paper', yref:'paper', x:px2x(legendTextX[j]), y:px2y(legendY), text:seriesNames[j], showarrow:false,
    xanchor:'left', yanchor:'middle', font:{family:FONT, size:14, color:'#000'}});
}

Plotly.newPlot('chart', traces, layout, {staticPlot:true, displayModeBar:false}).then(()=>{
  if(problems.length) throw new Error(problems.join('; '));
});
</script>
</body></html>
